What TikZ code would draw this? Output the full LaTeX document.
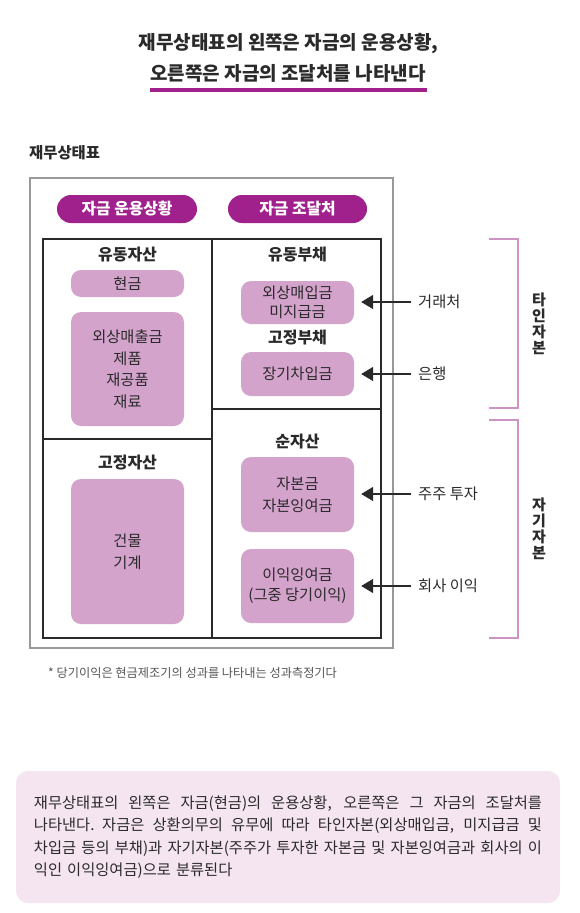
\documentclass[tikz,border=0pt]{standalone}
\usepackage{fontspec}
\setmainfont{Noto Sans CJK KR}
\usetikzlibrary{arrows.meta}
\definecolor{pdark}{HTML}{A0218C}
\definecolor{plight}{HTML}{D3A3CC}
\definecolor{pbr}{HTML}{CC93C3}
\definecolor{pbg}{HTML}{F4E5F1}
\definecolor{txt}{HTML}{2A2A2A}
\definecolor{gbox}{HTML}{999999}
\definecolor{note}{HTML}{555555}
\newcommand\jline[1]{\makebox[508pt][s]{\spaceskip=0.25em plus 1em\relax #1}}
\tikzset{
  titletext/.style={font=\bfseries\fontsize{19}{23}\selectfont, text=txt, inner sep=0},
  pill/.style={fill=pdark, rounded corners=14pt, minimum width=140pt, minimum height=28pt,
    text=white, font=\bfseries\fontsize{15.8}{18}\selectfont, inner sep=0},
  item/.style={fill=plight, rounded corners=10pt, minimum width=113pt, text=txt,
    align=center, inner sep=0},
  sect/.style={font=\bfseries\fontsize{16}{18}\selectfont, text=txt, inner sep=0},
  src/.style={font=\fontsize{15.3}{18}\selectfont, text=txt, anchor=west, inner sep=0},
  feed/.style={-{Triangle[length=12pt,width=14pt]}, line width=1.6pt, draw=txt,
    shorten <=7pt, shorten >=7pt},
  brk/.style={draw=pbr, line width=1.3pt},
  vlab/.style={font=\bfseries\fontsize{15}{16}\selectfont, text=txt, align=center, inner sep=0},
  inl/.style={draw=txt, line width=1.5pt},
}
\begin{document}
\begin{tikzpicture}[x=1pt,y=-1pt]
\useasboundingbox (0,0) rectangle (580,913);

% title
\node[titletext] (t1) at (288.5,44) {재무상태표의 왼쪽은 자금의 운용상황,};
\node[titletext] (t2) at (288,73) {오른쪽은 자금의 조달처를 나타낸다};
\coordinate (u1) at (150,90);
\coordinate (u2) at (427,90);
\draw[line width=4pt, pdark] (u1) -- (u2);

\node[sect, anchor=west, font=\bfseries\fontsize{15.4}{18}\selectfont] (lbl) at (29,153) {재무상태표};

% frames
\node[draw=gbox, line width=1.3pt, minimum width=363pt, minimum height=470pt, inner sep=0] (outer) at (211.5,413) {};
\node[pill] (p1) at (127,209) {자금 운용상황};
\node[pill, minimum width=139pt] (p2) at (297.5,209) {자금 조달처};

\node[inl, minimum width=338pt, minimum height=399pt, inner sep=0] (inner) at (212,438.5) {};
\draw[inl] (inner.north) -- (inner.south);
\coordinate (ml) at (212,439);
\coordinate (mr) at (212,409);
\draw[inl] (inner.west |- ml) -- (ml);
\draw[inl] (mr) -- (inner.east |- mr);

% left column
\node[sect] (s1) at (127.5,255) {유동자산};
\node[item, minimum height=27pt, font=\fontsize{15.3}{18}\selectfont] (cash) at (127.5,283.5) {현금};
\node[item, minimum height=114pt, font=\fontsize{15.3}{21.5}\selectfont] (curA) at (127.5,369) {외상매출금\\제품\\재공품\\재료};
\node[sect] (s2) at (127.5,463) {고정자산};
\node[item, minimum height=145pt, font=\fontsize{15.3}{22}\selectfont] (fixA) at (127.5,551.5) {건물\\기계};

% right column
\node[sect] (s3) at (297.5,255) {유동부채};
\node[item, minimum height=43pt, font=\fontsize{15.3}{19.5}\selectfont] (curL) at (297.5,302.5) {외상매입금\\미지급금};
\node[sect] (s4) at (297.5,338) {고정부채};
\node[item, minimum height=44pt, font=\fontsize{15.3}{18}\selectfont] (fixL) at (297.5,374) {장기차입금};
\node[sect] (s5) at (297.5,442) {순자산};
\node[item, minimum height=75pt, font=\fontsize{15.3}{22}\selectfont] (cap) at (297.5,494.5) {자본금\\자본잉여금};
\node[item, minimum height=74pt, font=\fontsize{15.3}{20}\selectfont] (ret) at (297.5,586) {이익잉여금\\(그중 당기이익)};

% sources and arrows
\node[src] (r1) at (418,302) {거래처};
\node[src] (r2) at (418,374) {은행};
\node[src] (r3) at (418,494) {주주 투자};
\node[src] (r4) at (418,586) {회사 이익};
\draw[feed] (r1.west) -- (r1.west -| curL.east);
\draw[feed] (r2.west) -- (r2.west -| fixL.east);
\draw[feed] (r3.west) -- (r3.west -| cap.east);
\draw[feed] (r4.west) -- (r4.west -| ret.east);

% brackets
\coordinate (b1t) at (489,239);
\coordinate (b1b) at (489,408);
\coordinate (b2t) at (489,420);
\coordinate (b2b) at (489,638);
\draw[brk] (b1t) -- ++(29,0) |- (b1b);
\draw[brk] (b2t) -- ++(29,0) |- (b2b);
\node[vlab] (v1) at (539,323.5) {타\\인\\자\\본};
\node[vlab] (v2) at (539,529) {자\\기\\자\\본};

% footnote
\node[anchor=west, inner sep=0, font=\fontsize{12.2}{14}\selectfont, text=note] (fn) at (48,673) {* 당기이익은 현금제조기의 성과를 나타내는 성과측정기다};

% summary
\node[fill=pbg, rounded corners=12pt, minimum width=544pt, minimum height=132pt, text width=508pt,
  align=left, inner sep=0, font=\fontsize{15.3}{22.5}\selectfont, text=txt] (sum) at (288,837)
  {\jline{재무상태표의 왼쪽은 자금(현금)의 운용상황, 오른쪽은 그 자금의 조달처를}\\
   \jline{나타낸다. 자금은 상환의무의 유무에 따라 타인자본(외상매입금, 미지급금 및}\\
   \jline{차입금 등의 부채)과 자기자본(주주가 투자한 자본금 및 자본잉여금과 회사의 이}\\
   익인 이익잉여금)으로 분류된다};
\end{tikzpicture}
\end{document}
